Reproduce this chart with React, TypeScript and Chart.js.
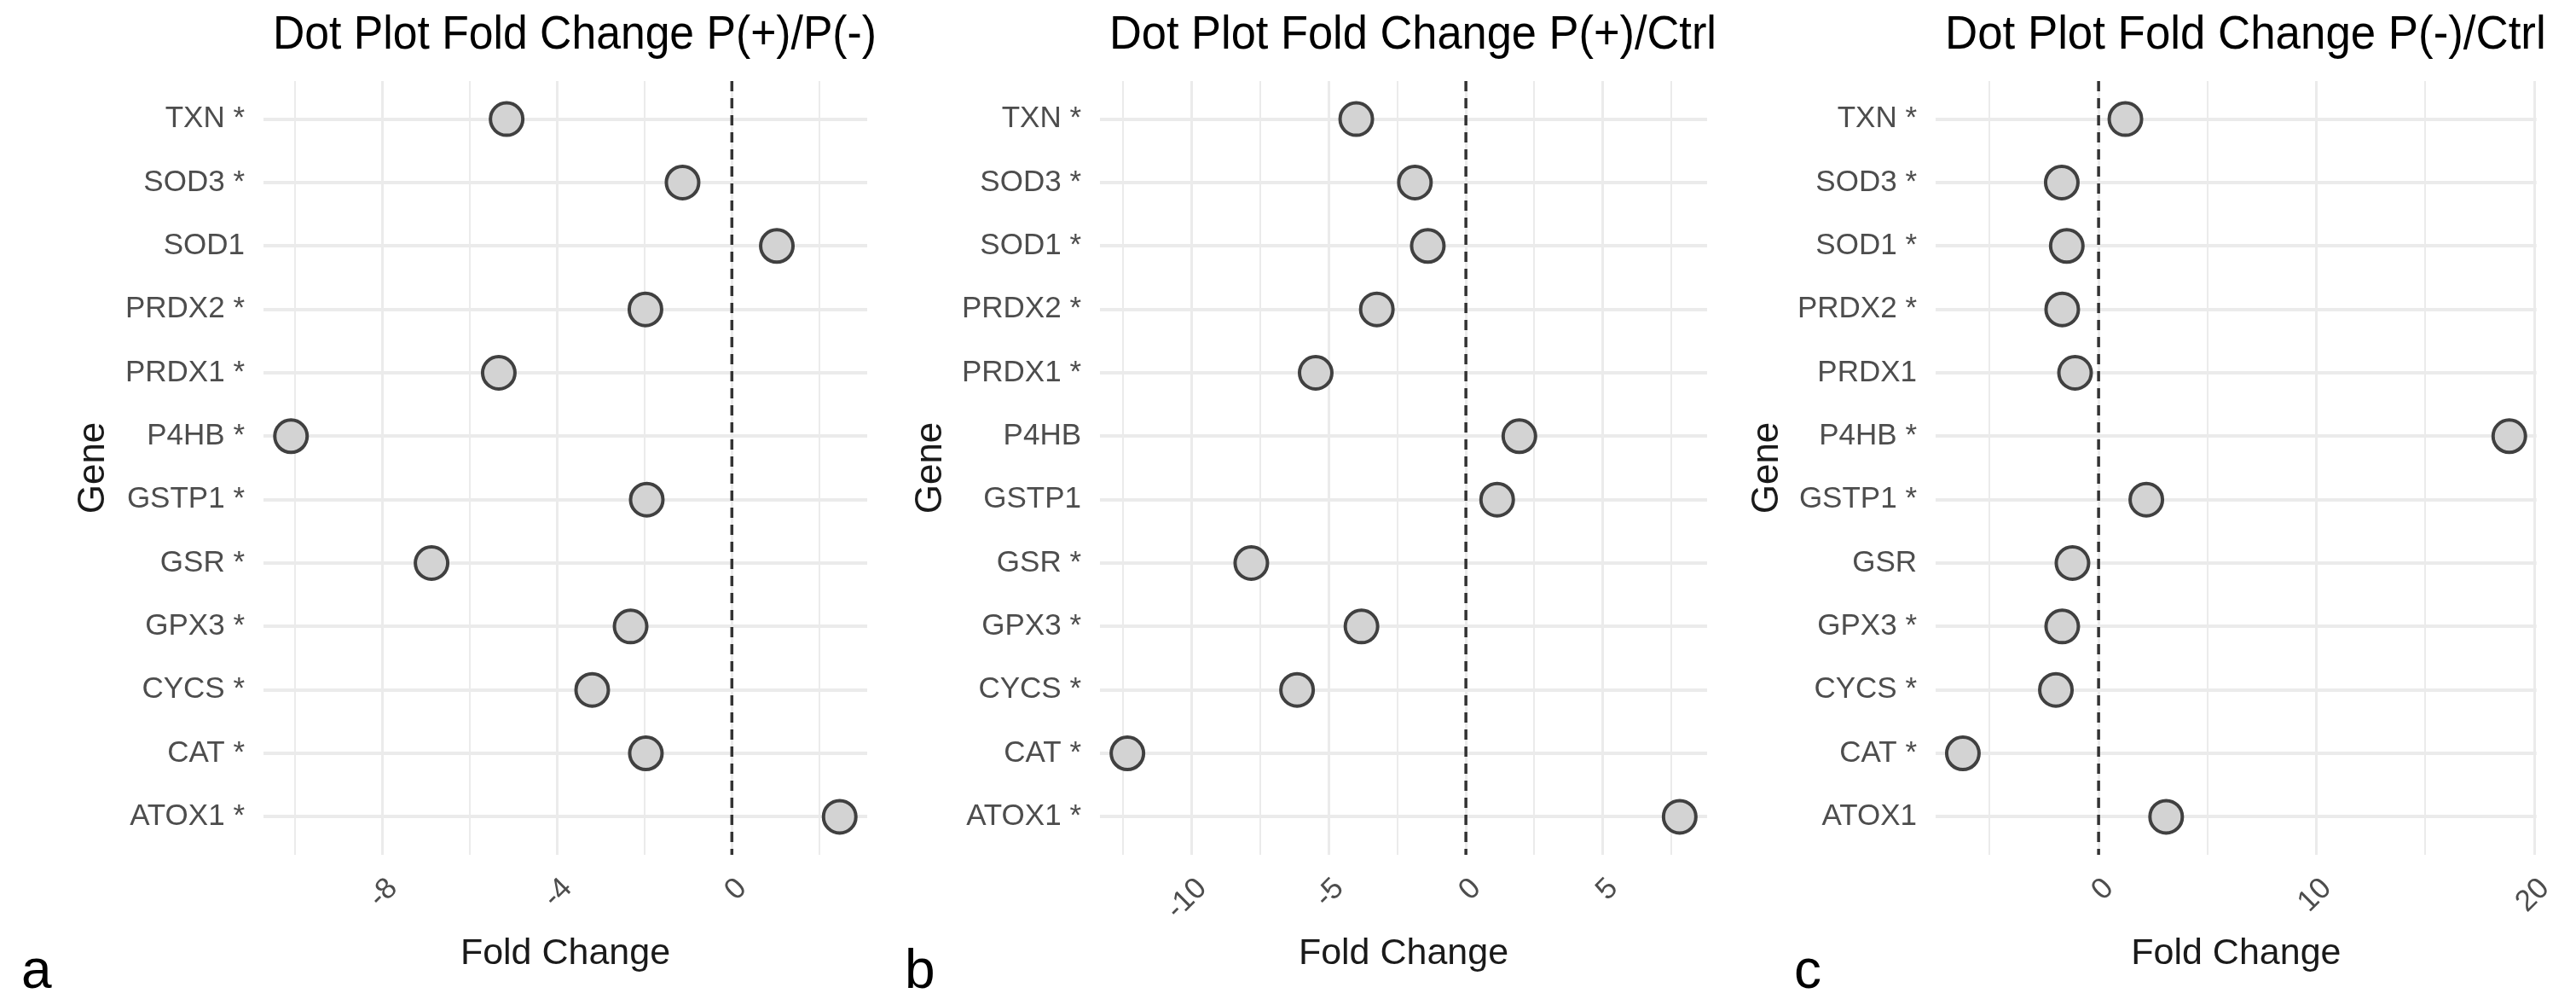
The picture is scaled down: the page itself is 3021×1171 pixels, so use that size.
import React, { useEffect, useRef } from "react";
import { Chart, registerables } from "chart.js";

Chart.register(...registerables);

const FONT = "'Liberation Sans', Arial, Helvetica, sans-serif";

// Genes, bottom (index 0) to top
const GENES = ["ATOX1", "CAT", "CYCS", "GPX3", "GSR", "GSTP1", "P4HB", "PRDX1", "PRDX2", "SOD1", "SOD3", "TXN"];

const LABELS_A = ["ATOX1 *", "CAT *", "CYCS *", "GPX3 *", "GSR *", "GSTP1 *", "P4HB *", "PRDX1 *", "PRDX2 *", "SOD1", "SOD3 *", "TXN *"];
const LABELS_B = ["ATOX1 *", "CAT *", "CYCS *", "GPX3 *", "GSR *", "GSTP1", "P4HB", "PRDX1 *", "PRDX2 *", "SOD1 *", "SOD3 *", "TXN *"];
const LABELS_C = ["ATOX1", "CAT *", "CYCS *", "GPX3 *", "GSR", "GSTP1 *", "P4HB *", "PRDX1", "PRDX2 *", "SOD1 *", "SOD3 *", "TXN *"];

// Fold change values, same order as GENES
const FC_A = [2.47, -1.97, -3.2, -2.32, -6.88, -1.95, -10.1, -5.34, -1.98, 1.03, -1.13, -5.16];
const FC_B = [7.8, -12.35, -6.16, -3.81, -7.83, 1.14, 1.95, -5.48, -3.25, -1.39, -1.86, -4.0];
const FC_C = [3.1, -6.23, -1.96, -1.67, -1.2, 2.19, 18.85, -1.08, -1.67, -1.46, -1.69, 1.23];

// Axis ticks
const MAJOR_A = [-8, -4, 0];
const MINOR_A = [-10, -6, -2, 2];
const MAJOR_B = [-10, -5, 0, 5];
const MINOR_B = [-12.5, -7.5, -2.5, 2.5, 7.5];
const MAJOR_C = [0, 10, 20];
const MINOR_C = [-5, 5, 15];

const TITLES = [
  "Dot Plot Fold Change P(+)/P(-)",
  "Dot Plot Fold Change P(+)/Ctrl",
  "Dot Plot Fold Change P(-)/Ctrl",
];
const PANEL_LETTERS = ["a", "b", "c"];

const H = 1171;

type PanelSpec = {
  title: string;
  labels: string[];
  values: number[];
  major: number[];
  minor: number[];
  xMin: number;
  xMax: number;
  left: number;
  width: number;
  yAxisWidth: number;
  padRight: number;
  genePad: number;
};

const PANELS: PanelSpec[] = [
  { title: TITLES[0], labels: LABELS_A, values: FC_A, major: MAJOR_A, minor: MINOR_A, xMin: -10.73, xMax: 3.1, left: 0, width: 1040, yAxisWidth: 309, padRight: 16, genePad: 83 },
  { title: TITLES[1], labels: LABELS_B, values: FC_B, major: MAJOR_B, minor: MINOR_B, xMin: -13.35, xMax: 8.8, left: 1040, width: 985, yAxisWidth: 250, padRight: 20, genePad: 25 },
  { title: TITLES[2], labels: LABELS_C, values: FC_C, major: MAJOR_C, minor: MINOR_C, xMin: -7.48, xMax: 20.1, left: 2025, width: 996, yAxisWidth: 245, padRight: 33, genePad: 21 },
];

const LETTER_POS = [25, 1061, 2104];

const zeroLine = {
  id: "zeroLine",
  beforeDatasetsDraw(chart: any) {
    const { ctx, chartArea } = chart;
    const x = chart.scales.x.getPixelForValue(0);
    ctx.save();
    ctx.strokeStyle = "#333333";
    ctx.lineWidth = 3.5;
    ctx.setLineDash([12, 8]);
    ctx.beginPath();
    ctx.moveTo(x, chartArea.top);
    ctx.lineTo(x, chartArea.bottom);
    ctx.stroke();
    ctx.restore();
  },
};

// Nudge the (panel-centred) title slightly right, as in the reference
const titleNudge = {
  id: "titleNudge",
  afterLayout(chart: any) {
    const tb = chart.titleBlock;
    if (tb) {
      tb.left += 11;
      tb.right += 11;
    }
  },
};

function Panel({ spec }: { spec: PanelSpec }) {
  const ref = useRef<HTMLCanvasElement>(null);
  useEffect(() => {
    const allTicks = [...spec.major, ...spec.minor].sort((a, b) => a - b);
    const chart = new Chart(ref.current as HTMLCanvasElement, {
      type: "scatter",
      data: {
        datasets: [
          {
            data: GENES.map((_, i) => ({ x: spec.values[i], y: i })),
            pointRadius: 19,
            pointHoverRadius: 19,
            pointBorderWidth: 4,
            pointBackgroundColor: "#D3D3D3",
            pointBorderColor: "#404040",
            showLine: false,
          },
        ],
      },
      options: {
        animation: false,
        responsive: false,
        devicePixelRatio: 1,
        events: [],
        layout: { padding: { left: 0, top: 0, bottom: 0, right: spec.padRight } },
        plugins: {
          legend: { display: false },
          tooltip: { enabled: false },
          title: {
            display: true,
            text: spec.title,
            fullSize: false,
            align: "center",
            color: "#000000",
            font: { family: FONT, size: 55, weight: "normal" },
            padding: { top: 9, bottom: 20 },
          },
        },
        scales: {
          x: {
            type: "linear",
            position: "bottom",
            min: spec.xMin,
            max: spec.xMax,
            afterBuildTicks: (s: any) => {
              s.ticks = allTicks.map((v) => ({ value: v }));
            },
            afterFit: (s: any) => {
              s.height = 169;
            },
            ticks: {
              autoSkip: false,
              minRotation: 45,
              maxRotation: 45,
              padding: 19,
              labelOffset: 12,
              color: "#4D4D4D",
              font: { family: FONT, size: 35 },
              callback: (v: any) => (spec.major.includes(Number(v)) ? String(v) : ""),
            },
            grid: {
              drawTicks: false,
              color: "#EBEBEB",
              lineWidth: (ctx: any) => (ctx.tick && spec.major.includes(ctx.tick.value) ? 3 : 2),
            },
            border: { display: false },
            title: {
              display: true,
              text: "Fold Change",
              color: "#1A1A1A",
              font: { family: FONT, size: 43 },
              padding: { top: 0, bottom: 27 },
            },
          },
          y: {
            type: "linear",
            min: -0.6,
            max: GENES.length - 0.4,
            afterBuildTicks: (s: any) => {
              s.ticks = GENES.map((_, i) => ({ value: i }));
            },
            afterFit: (s: any) => {
              s.width = spec.yAxisWidth;
            },
            ticks: {
              autoSkip: false,
              padding: 22,
              color: "#4D4D4D",
              font: { family: FONT, size: 35 },
              callback: (v: any) => spec.labels[Number(v)] ?? "",
            },
            grid: { drawTicks: false, color: "#EBEBEB", lineWidth: 4 },
            border: { display: false },
            title: {
              display: true,
              text: "Gene",
              color: "#1A1A1A",
              font: { family: FONT, size: 44 },
              padding: { top: spec.genePad, bottom: 0 },
            },
          },
        },
      } as any,
      plugins: [zeroLine, titleNudge],
    });
    return () => chart.destroy();
  }, [spec]);
  return (
    <canvas
      ref={ref}
      width={spec.width}
      height={H}
      style={{ position: "absolute", left: spec.left, top: 0, width: spec.width, height: H }}
    />
  );
}

export default function App() {
  return (
    <div style={{ position: "absolute", left: 0, top: 0, width: 3021, height: H, background: "#FFFFFF", overflow: "hidden" }}>
      {PANELS.map((p, i) => (
        <Panel key={i} spec={p} />
      ))}
      {PANEL_LETTERS.map((l, i) => (
        <div
          key={l}
          style={{
            position: "absolute",
            left: LETTER_POS[i],
            top: 1104,
            fontFamily: FONT,
            fontSize: 64,
            lineHeight: "64px",
            color: "#000000",
          }}
        >
          {l}
        </div>
      ))}
    </div>
  );
}
